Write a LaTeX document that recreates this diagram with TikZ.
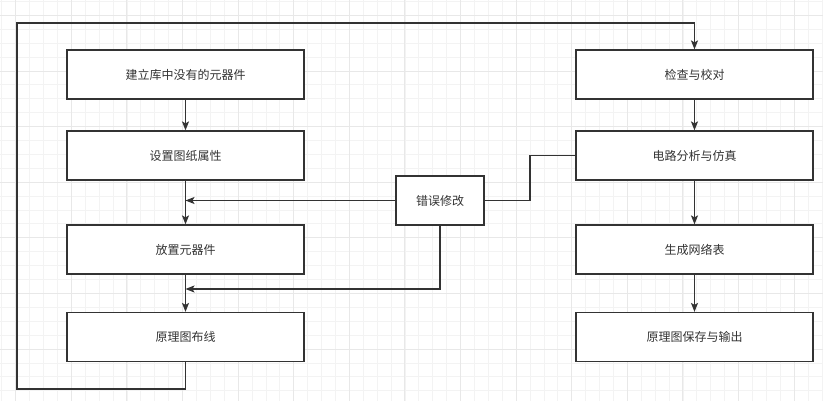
\documentclass[tikz,border=0pt]{standalone}
\usepackage{fontspec}
\setmainfont{Noto Sans CJK SC}
\usetikzlibrary{arrows.meta}
\definecolor{inkgrey}{HTML}{333333}
\definecolor{gridminor}{HTML}{F3F3F3}
\definecolor{gridmajor}{HTML}{E8E8E8}
\tikzset{
  stepbox/.style={rectangle,draw=inkgrey,line width=1.2pt,fill=white,
    minimum width=237pt,minimum height=49pt,inner sep=0pt,
    text=inkgrey,font=\fontsize{12pt}{14pt}\selectfont},
  fixbox/.style={stepbox,minimum width=88pt},
  link/.style={draw=inkgrey,line width=1.2pt},
  arrow/.style={link,-{Stealth[length=9pt,width=7pt,inset=2pt]}}
}
\begin{document}
\begin{tikzpicture}[x=1pt,y=-1pt]
\useasboundingbox (0,0) rectangle (823,401);
\fill[white] (0,0) rectangle (823,401);

% Grid
\foreach \i in {0,...,59}
  \draw[gridminor,line width=0.8pt] ({1.8+13.9*\i},0) -- ({1.8+13.9*\i},401);
\foreach \j in {0,...,28}
  \draw[gridminor,line width=0.8pt] (0,{1.5+13.9*\j}) -- (823,{1.5+13.9*\j});
\foreach \i in {0,...,14}
  \draw[gridmajor,line width=0.9pt] ({15.7+55.6*\i},0) -- ({15.7+55.6*\i},401);
\foreach \j in {0,...,6}
  \draw[gridmajor,line width=0.9pt] (0,{15.4+55.6*\j}) -- (823,{15.4+55.6*\j});

% Left column
\node[stepbox] (newpart) at (185.5,74.5) {建立库中没有的元器件};
\node[stepbox] (sheet) at (185.5,155.5) {设置图纸属性};
\node[stepbox] (place) at (185.5,249.5) {放置元器件};
\node[stepbox] (wire) at (185.5,337) {原理图布线};

% Right column
\node[stepbox] (check) at (694.5,74.5) {检查与校对};
\node[stepbox] (sim) at (694.5,155.5) {电路分析与仿真};
\node[stepbox] (netlist) at (694.5,249.5) {生成网络表};
\node[stepbox] (output) at (694.5,337) {原理图保存与输出};

% Error correction
\node[fixbox] (fix) at (440,200.5) {错误修改};

\coordinate (join) at (185.5,289);
\coordinate (loopbl) at (17,389);
\coordinate (looptl) at (17,23);
\coordinate (bend) at (530,200.5);

% Connectors
\draw[arrow] (newpart) -- (sheet);
\draw[arrow] (sheet) -- (place);
\draw[arrow] (place) -- (wire);
\draw[arrow] (check) -- (sim);
\draw[arrow] (sim) -- (netlist);
\draw[arrow] (netlist) -- (output);
\draw[arrow] (fix.west) -- (fix.west -| sheet.south);
\draw[arrow] (fix.south) |- (join);
\draw[link] (fix.east) -- (bend) |- (sim.west);
\draw[arrow] (wire.south) |- (loopbl) -- (looptl) -| (check.north);
\end{tikzpicture}
\end{document}
